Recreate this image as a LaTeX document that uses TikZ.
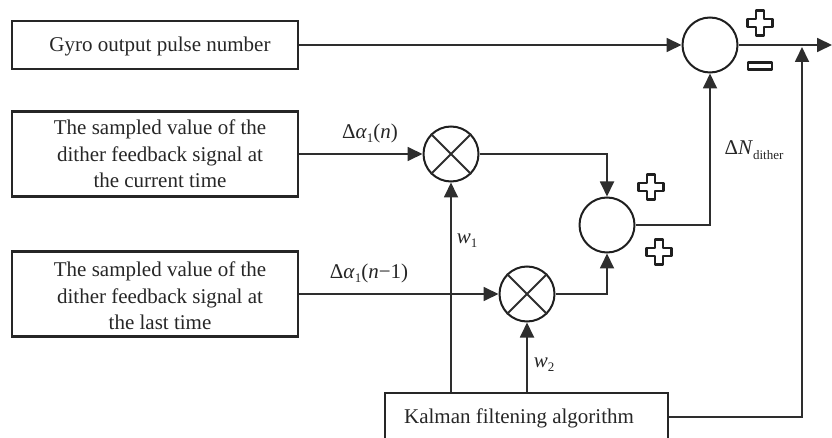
\documentclass[tikz,border=0pt]{standalone}
\usepackage{fontspec}
\setmainfont{Liberation Serif}
\usetikzlibrary{arrows.meta}
\newcommand\lowsub[1]{\raisebox{-0.45ex}{\fontsize{13}{13}\selectfont #1}}
\begin{document}
\begin{tikzpicture}[x=1pt,y=-1pt,
  line/.style={draw=black!82, line width=1.8pt},
  arr/.style={line, -{Triangle[length=15pt,width=14pt]}},
  blk/.style={draw=black!85, line width=2.3pt, rectangle, minimum width=286pt, inner sep=0pt},
  txt/.style={font=\fontsize{21}{26.5}\selectfont, align=center, inner sep=0pt, text=black!85},
  sumc/.style={circle, draw=black!88, line width=2pt, minimum size=55pt, inner sep=0pt},
  lbl/.style={font=\fontsize{21}{24}\selectfont, inner sep=0pt, text=black!85},
  sign/.style={draw=black!88, line width=2.3pt, fill=white, line join=round},
  plussign/.pic={\path[sign] (-4,-12.5) -- (4,-12.5) -- (4,-4) -- (12.5,-4) -- (12.5,4) -- (4,4) -- (4,12.5) -- (-4,12.5) -- (-4,4) -- (-12.5,4) -- (-12.5,-4) -- (-4,-4) -- cycle;},
  minussign/.pic={\path[sign] (-12,-3.5) rectangle (12,3.5);}
]
\useasboundingbox (0,0) rectangle (832,438);
\clip (0,0) rectangle (832,438);

% blocks
\node[blk, minimum height=48pt] (gyro) at (155,45) {};
\node[txt] (gyrot) at (160,46) {Gyro output pulse number};
\node[blk, minimum height=85pt] (cur) at (155,154) {};
\node[txt] (curt) at (160,154) {The sampled value of the\\dither feedback signal at\\the current time};
\node[blk, minimum height=85pt] (last) at (155,294) {};
\node[txt] (lastt) at (160,296) {The sampled value of the\\dither feedback signal at\\the last time};
\node[blk, minimum width=283pt, minimum height=48pt] (kal) at (526.5,417) {};
\node[txt] (kalt) at (519,418) {Kalman filtening algorithm};

% junctions
\node[sumc] (s1) at (710,45) {};
\node[sumc] (s2) at (607,225) {};
\node[sumc] (m1) at (451,154) {};
\node[sumc] (m2) at (527,294) {};
\draw[line] (m1.45) -- (m1.225) (m1.135) -- (m1.315);
\draw[line] (m2.45) -- (m2.225) (m2.135) -- (m2.315);

\coordinate (out) at (832,45);
\coordinate (tap) at (802,47);

% connectors
\draw[arr] (gyro.east) -- (s1.west);
\draw[arr] (s1.east) -- (out);
\draw[arr] (cur.east) -- (m1.west);
\draw[arr] (last.east) -- (m2.west);
\draw[arr] (m1.east) -| (s2.north);
\draw[arr] (m2.east) -| (s2.south);
\draw[arr] (s2.east) -| (s1.south);
\draw[arr] (kal.north -| m1.south) -- (m1.south);
\draw[arr] (kal.north -| m2.south) -- (m2.south);
\draw[arr] (kal.east) -| (tap);

% labels
\node[lbl] (la1) at (370,133) {Δ\textit{α}\lowsub{1}(\textit{n})};
\node[lbl] (la2) at (369,273) {Δ\textit{α}\lowsub{1}(\textit{n}−1)};
\node[lbl] (lw1) at (467,241) {\textit{w}\lowsub{1}};
\node[lbl] (lw2) at (544,365) {\textit{w}\lowsub{2}};
\node[lbl] (ldn) at (754,150) {Δ\textit{N}\lowsub{dither}};

% signs
\pic at (760,23) {plussign};
\pic at (760,66) {minussign};
\pic at (651,187) {plussign};
\pic at (659,252) {plussign};
\end{tikzpicture}
\end{document}
